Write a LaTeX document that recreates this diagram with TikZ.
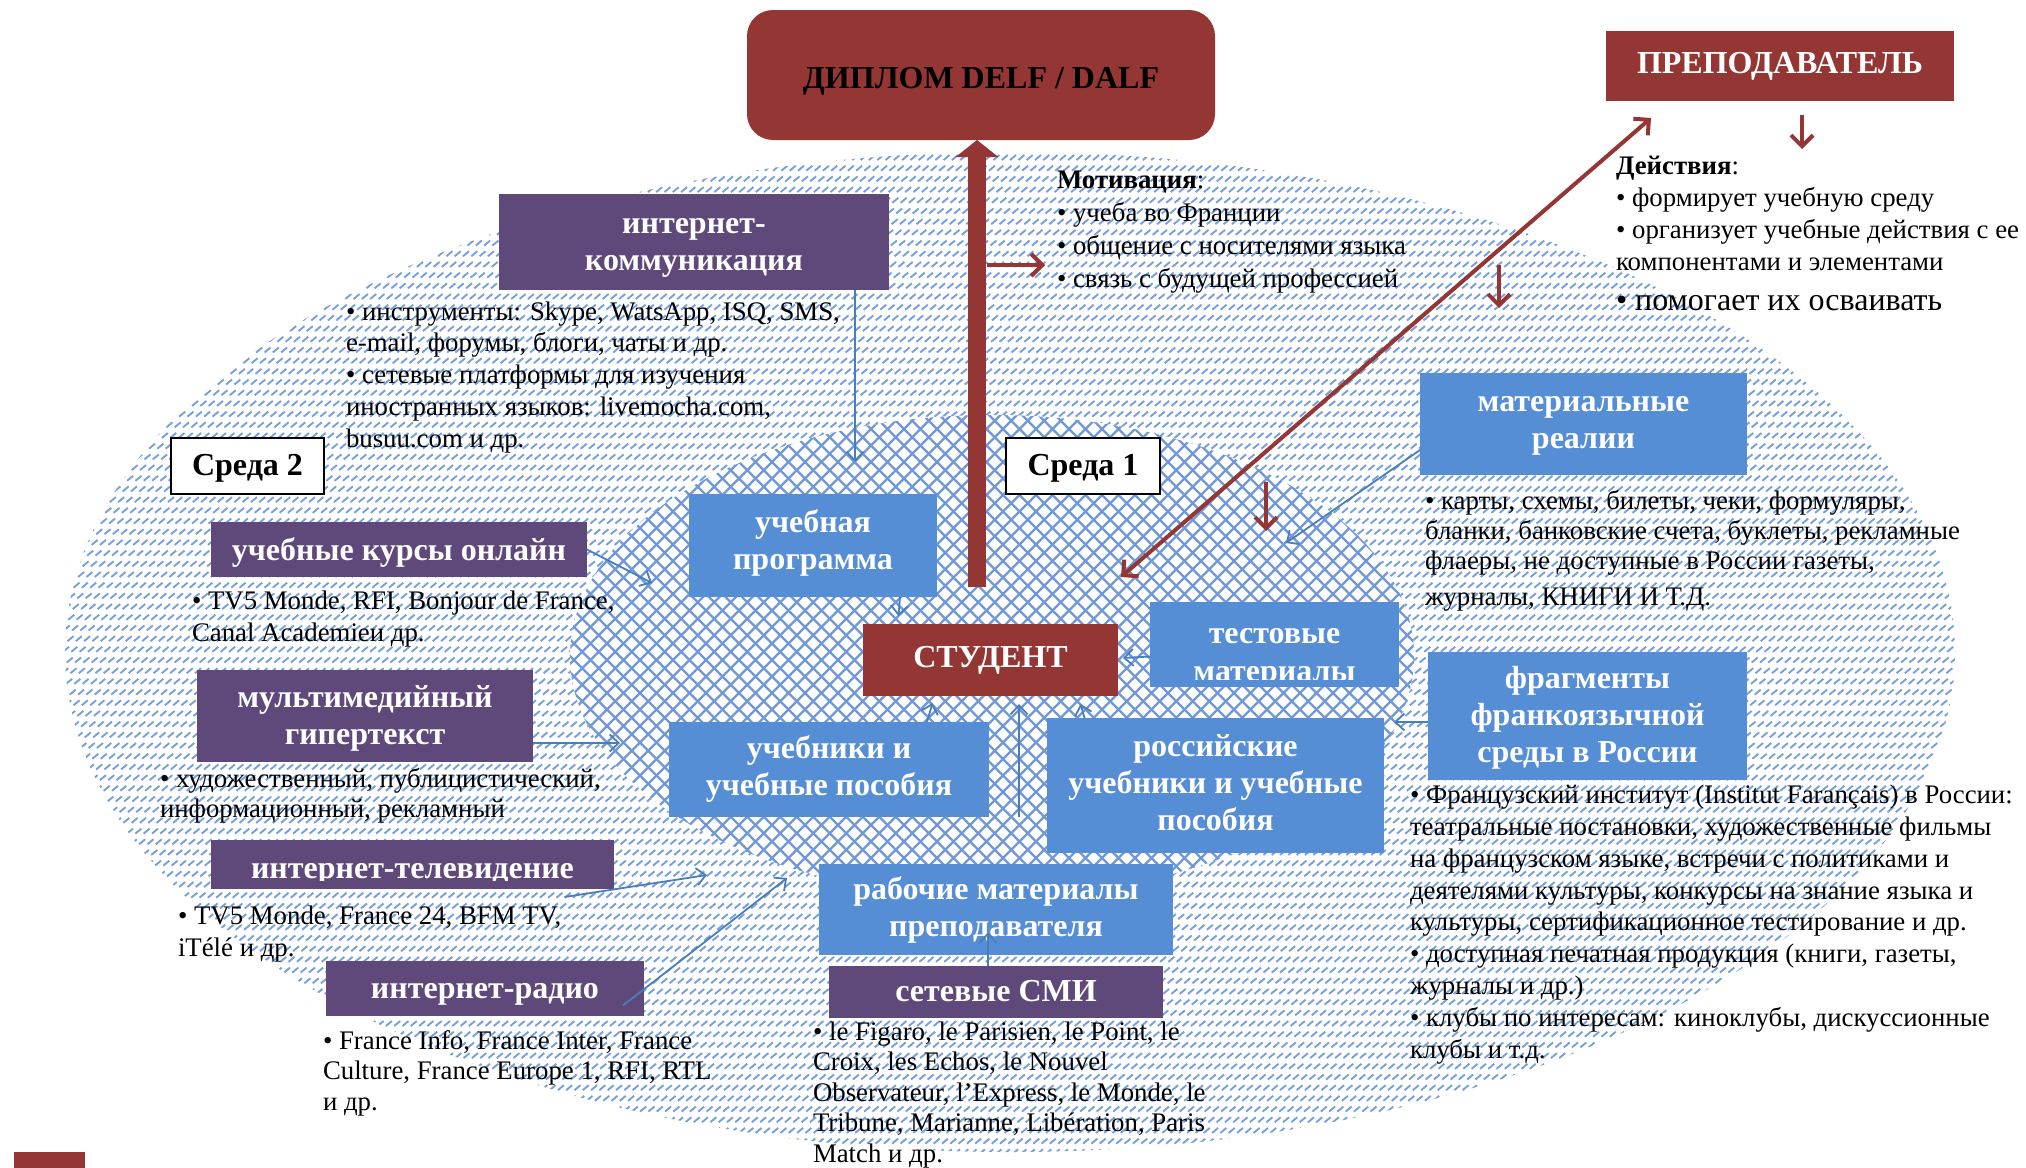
\documentclass[tikz,border=0pt]{standalone}
\usepackage{fontspec}
\setmainfont{Liberation Serif}
\usetikzlibrary{arrows.meta,calc}
\definecolor{dred}{RGB}{148,54,52}
\definecolor{purp}{RGB}{95,73,122}
\definecolor{bbl}{RGB}{85,142,213}
\definecolor{abl}{RGB}{74,126,187}
\definecolor{hbl}{RGB}{118,160,222}
\definecolor{xbl}{RGB}{112,152,216}
\begin{document}
\begin{tikzpicture}[x=1pt,y=-1pt,
 box/.style={inner sep=0pt, outer sep=0pt, text=white, align=center, text depth=0pt, font=\bfseries\fontsize{32}{37}\selectfont},
 th/.style={text height=#1},
 pbox/.style={box, fill=purp},
 bbox/.style={box, fill=bbl},
 sbox/.style={box, text=black, fill=white, draw=black, line width=1.5pt},
 body/.style={inner sep=0pt, outer sep=0pt, align=left, anchor=base west, font=\fontsize{26.8}{31.7}\selectfont},
 barrow/.style={draw=abl, line width=1.8pt, -{Straight Barb[length=9pt,width=17pt]}},
 rarrow/.style={draw=dred, line width=4pt, -{Straight Barb[length=11pt,width=22pt]}},
]
\path[fill=white] (0,0) rectangle (2026,1167);
\useasboundingbox (0,0) rectangle (2026,1167);

% outer hatched environment (Среда 2)
\begin{scope}
\clip (1010,652) ellipse [x radius=945pt, y radius=500pt];
\draw[hbl, line width=1.9pt, dash pattern=on 7.8pt off 8.9pt]
  \foreach \i in {0,...,390} { (-1250+8.3*\i,1165) -- ++(1218,-1015) };
\end{scope}

% inner cross-hatched environment (Среда 1)
\fill[white] (992,656) ellipse [x radius=422pt, y radius=241pt];
\begin{scope}
\clip (992,656) ellipse [x radius=422pt, y radius=241pt];
\draw[xbl, line width=2.3pt]
  \foreach \i in {0,...,88} { (60+16.5*\i,910) -- ++(500,-500) };
\draw[xbl, line width=2.3pt]
  \foreach \i in {0,...,88} { (560+16.5*\i,910) -- ++(-500,-500) };
\end{scope}

% top boxes
\node[box, th=26pt, fill=dred, text=black, rounded corners=26pt, minimum width=468pt, minimum height=130pt] (dip) at (981,75) {ДИПЛОМ DELF / DALF};
\node[box, th=14pt, fill=dred, minimum width=348pt, minimum height=70pt] (prep) at (1780,66) {ПРЕПОДАВАТЕЛЬ};

% purple boxes
\node[pbox, th=57pt, minimum width=390pt, minimum height=96pt] (ikom) at (694,242) {интернет-\\коммуникация};
\node[pbox, th=22pt, minimum width=376pt, minimum height=55pt] (kurs) at (399,549.5) {учебные курсы онлайн};
\node[pbox, th=57pt, minimum width=336pt, minimum height=92pt] (multi) at (365,716) {мультимедийный\\гипертекст};
\node[pbox, minimum width=403pt, minimum height=49pt] (tv) at (412.5,864.5) {};
\begin{scope}
\clip (211,840) rectangle (614,880);
\node[box, anchor=base] (tvt) at (412.5,878) {интернет-телевидение};
\end{scope}
\node[pbox, th=20pt, minimum width=318pt, minimum height=55pt] (radio) at (485,988.5) {интернет-радио};
\node[pbox, th=18pt, minimum width=334pt, minimum height=52pt] (smi) at (996,992) {сетевые СМИ};

% blue boxes
\node[bbox, th=48pt, minimum width=248pt, minimum height=103pt] (prog) at (813,545.5) {учебная\\программа};
\node[bbox, th=51pt, minimum width=320pt, minimum height=95pt] (ucheb) at (829,769.5) {учебники и\\учебные пособия};
\node[bbox, th=89pt, minimum width=337pt, minimum height=135pt] (ross) at (1215.5,785.5) {российские\\учебники и учебные\\пособия};
\node[bbox, minimum width=249pt, minimum height=85pt] (test) at (1274.5,644.5) {};
\begin{scope}
\clip (1150,602) rectangle (1399,679);
\node[box, anchor=base] (testa) at (1274.5,643) {тестовые};
\node[box, anchor=base] (testb) at (1274.5,681) {материалы};
\end{scope}
\node[bbox, th=49pt, minimum width=327pt, minimum height=102pt] (mat) at (1583.5,424) {материальные\\реалии};
\node[bbox, th=92pt, minimum width=319pt, minimum height=128pt] (frag) at (1587.5,716) {фрагменты\\франкоязычной\\среды в России};
\node[bbox, th=55pt, minimum width=354pt, minimum height=91pt] (rab) at (996,909) {рабочие материалы\\преподавателя};

% student
\node[box, th=15pt, fill=dred, minimum width=255pt, minimum height=72pt] (stud) at (990.5,660) {СТУДЕНТ};

% environment labels
\node[sbox, th=18pt, minimum width=153pt, minimum height=56pt] (s2) at (247.5,466) {Среда 2};
\node[sbox, th=18pt, minimum width=154pt, minimum height=56pt] (s1) at (1083,466) {Среда 1};

% corner mark
\node[fill=dred, inner sep=0pt, minimum width=71pt, minimum height=18pt] (corner) at (49.5,1161) {};

% texts (anchored at the baseline of the last line)
\node[body] (t1) at (346,447) {• инструменты: Skype, WatsApp, ISQ, SMS,\\e-mail, форумы, блоги, чаты и др.\\• сетевые платформы для изучения\\иностранных языков: livemocha.com,\\busuu.com и др.};
\node[body] (t2) at (192,641) {• TV5 Monde, RFI, Bonjour de France,\\Canal Academieи др.};
\node[body, font=\fontsize{26.8}{30}\selectfont] (t3) at (160,817) {• художественный, публицистический,\\информационный, рекламный};
\node[body] (t4) at (178,956) {• TV5 Monde, France 24, BFM TV,\\iTélé и др.};
\node[body, font=\fontsize{26.8}{30.5}\selectfont] (t5) at (323,1110) {• France Info, France Inter, France\\Culture, France Europe 1, RFI, RTL\\и др.};
\node[body, font=\fontsize{26.8}{30.5}\selectfont] (t6) at (813,1162) {• le Figaro, le Parisien, le Point, le\\Croix, les Echos, le Nouvel\\Observateur, l’Express, le Monde, le\\Tribune, Marianne, Libération, Paris\\Match и др.};
\node[body, font=\fontsize{26.8}{30}\selectfont] (t7) at (1425,569) {• карты, схемы, билеты, чеки, формуляры,\\бланки, банковские счета, буклеты, рекламные\\флаеры, не доступные в России газеты,};
\node[body] (t7b) at (1425,605) {журналы, КНИГИ И Т.Д.};
\node[body, font=\fontsize{26.8}{31.8}\selectfont] (t8) at (1410,1058) {• Французский институт (Institut Farançais) в России:\\театральные постановки, художественные фильмы\\на французском языке, встречи с политиками и\\деятелями культуры, конкурсы на знание языка и\\культуры, сертификационное тестирование и др.\\• доступная печатная продукция (книги, газеты,\\журналы и др.)\\• клубы по интересам: киноклубы, дискуссионные\\клубы и т.д.};
\node[body, font=\fontsize{26.8}{33}\selectfont] (mot) at (1057,287) {\textbf{Мотивация}:\\• учеба во Франции\\• общение с носителями языка\\• связь с будущей профессией};
\node[body, font=\fontsize{26.8}{32}\selectfont] (dei) at (1616,270) {\textbf{Действия}:\\• формирует учебную среду\\• организует учебные действия с ее\\компонентами и элементами};
\node[body, font=\fontsize{32}{36}\selectfont] (pom) at (1616,310) {• помогает их осваивать};

% coordinates for free ends
\coordinate (p1) at (855,462);
\coordinate (p2) at (652,583);
\coordinate (p3) at (620,743);
\coordinate (p4) at (707,875);
\coordinate (p5) at (787,878);
\coordinate (p12) at (1286,543);
\coordinate (r3a) at (1499,265);
\coordinate (r3b) at (1499,308);
\coordinate (r4a) at (987,265);
\coordinate (r4b) at (1045,265);
\coordinate (r5a) at (1266,482);
\coordinate (r5b) at (1266,531);

% thick arrow student -> diploma
\draw[dred, line width=18pt, -{Triangle[length=17pt,width=42pt]}] ([xshift=-13.5pt,yshift=37pt]stud.north) -- ([xshift=-4pt]dip.south);

% blue arrows
\draw[barrow] (ikom.south -| p1) -- (p1);
\draw[barrow] (kurs.east) -- (p2);
\draw[barrow] (multi.east |- p3) -- (p3);
\draw[barrow] ([xshift=152pt,yshift=-8pt]tv.south) -- (p4);
\draw[barrow] ([xshift=-21pt,yshift=-17pt]radio.east) -- (p5);
\draw[barrow] ([xshift=87pt]prog.south) -- ([xshift=-92pt,yshift=8pt]stud.north);
\draw[barrow] ([xshift=98pt]ucheb.north) -- ([xshift=-58pt,yshift=-7pt]stud.south);
\draw[barrow] ([xshift=23pt,yshift=47pt]rab.north) -- ([xshift=28.5pt,yshift=-8pt]stud.south);
\draw[barrow] ([xshift=-131pt]ross.north) -- ([xshift=90pt,yshift=-8pt]stud.south);
\draw[barrow] ([yshift=-12pt]test.west) -- ([xshift=5pt,yshift=2pt]stud.east);
\draw[barrow] ([yshift=-6pt]frag.west) -- ([xshift=-34pt,yshift=-6pt]frag.west);
\draw[barrow] ([yshift=-26pt]mat.west) -- (p12);
\draw[barrow] ([xshift=-8pt]smi.north) -- ([xshift=-8pt,yshift=22pt]rab.south);

% red arrows
\draw[rarrow, {Straight Barb[length=11pt,width=22pt]}-{Straight Barb[length=11pt,width=22pt]}] ([xshift=3pt,yshift=47pt]stud.north east) -- ([xshift=-129pt,yshift=-17pt]prep.south);
\draw[rarrow] ([xshift=22pt,yshift=-14pt]prep.south) -- ++(0,34);
\draw[rarrow] (r3a) -- (r3b);
\draw[rarrow] (r4a) -- (r4b);
\draw[rarrow] (r5a) -- (r5b);
\end{tikzpicture}
\end{document}
